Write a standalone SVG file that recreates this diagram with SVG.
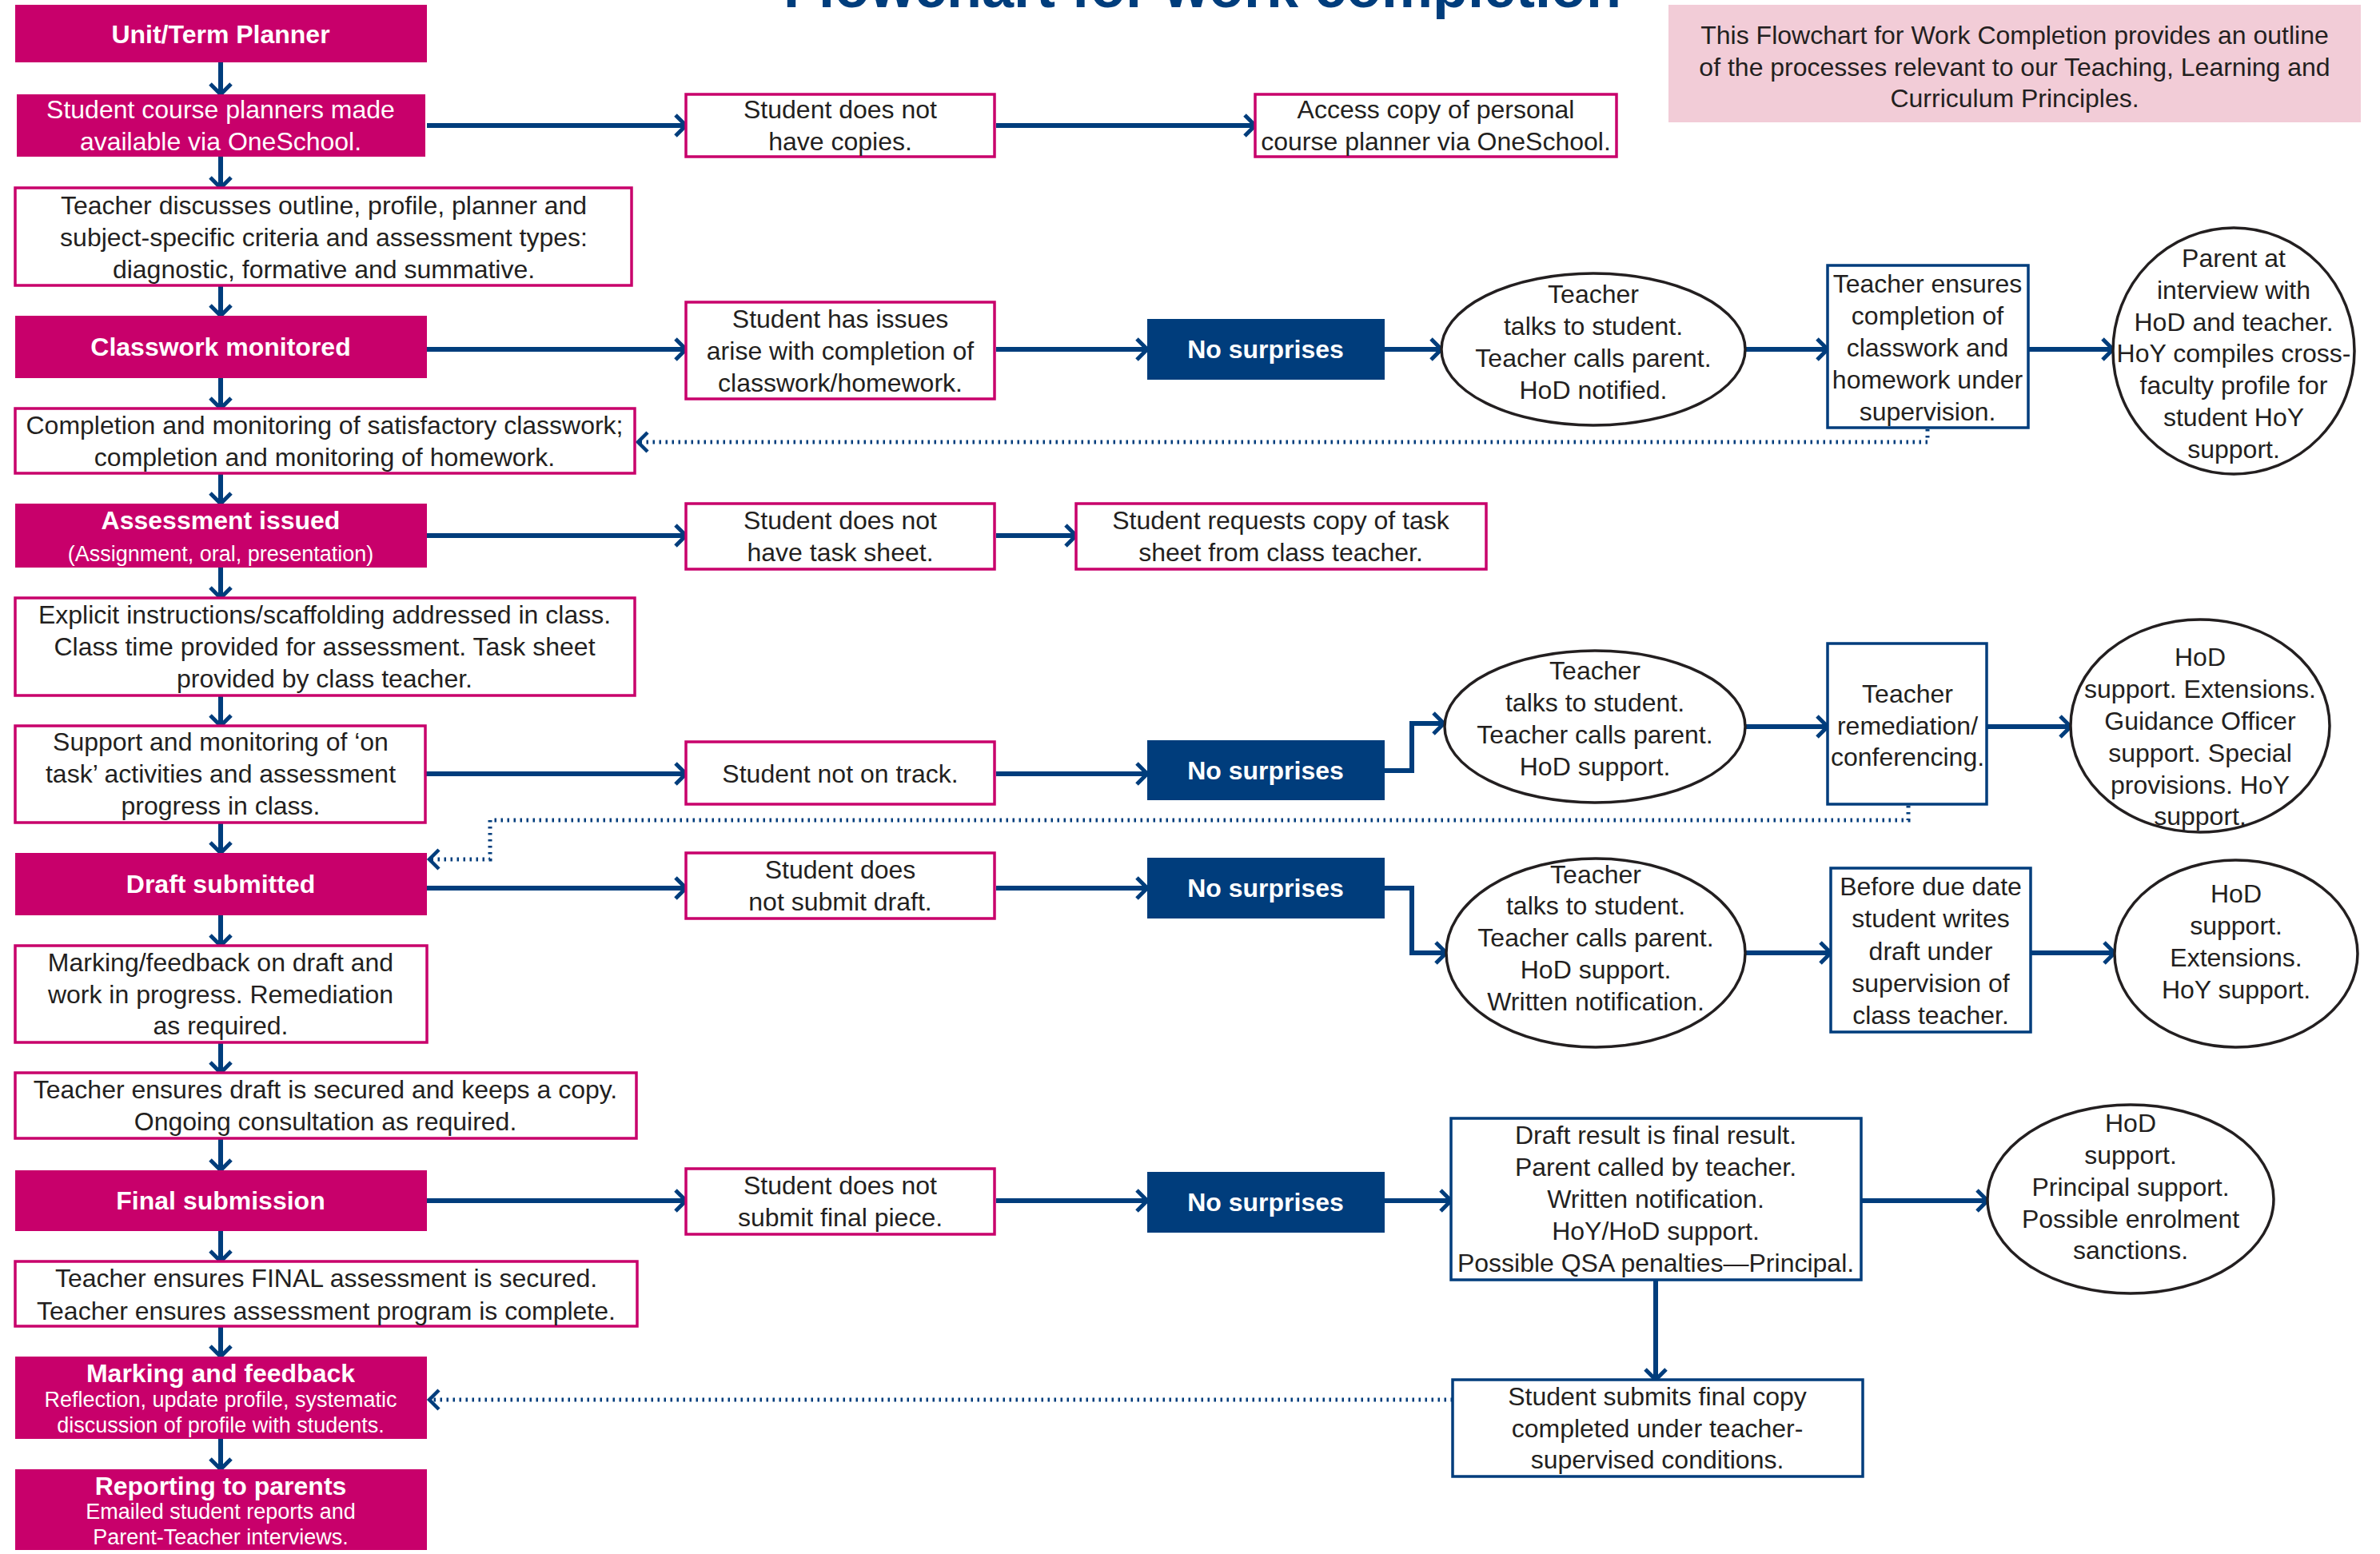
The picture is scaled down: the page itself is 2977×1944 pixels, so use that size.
<svg xmlns="http://www.w3.org/2000/svg" width="2977" height="1944" viewBox="0 0 2977 1944">
<defs>
<style>
.pk{fill:#c8006b}
.wb{fill:#fff;stroke:#c8006b;stroke-width:3.5}
.bb{fill:#fff;stroke:#003d7c;stroke-width:3.5}
.ns{fill:#003d7c}
.el{fill:#fff;stroke:#231f20;stroke-width:3.5}
.info{fill:#f2ccd7}
text{font-family:"Liberation Sans",Arial,Helvetica,sans-serif;font-size:32px;fill:#231f20;text-anchor:middle}
.w{fill:#fff}
.b{font-weight:bold}
.s{font-size:27px}
.ttl{font-size:72px;font-weight:bold;fill:#003d7c}
.c{stroke:#003d7c;stroke-width:6;fill:none;marker-end:url(#ah)}
.d{stroke:#003d7c;stroke-width:5;fill:none;stroke-dasharray:2.5 5.5;marker-end:url(#ahd)}
</style>
<marker id="ah" viewBox="0 0 20 30" refX="16" refY="15" markerWidth="20" markerHeight="30" markerUnits="userSpaceOnUse" orient="auto">
<path d="M3,2 L16,15 L3,28" fill="none" stroke="#003d7c" stroke-width="5"/>
</marker>
<marker id="ahd" viewBox="0 0 20 30" refX="16" refY="15" markerWidth="20" markerHeight="30" markerUnits="userSpaceOnUse" orient="auto">
<path d="M4,3 L16,15 L4,27" fill="none" stroke="#003d7c" stroke-width="4.5"/>
</marker>
</defs>
<rect width="2977" height="1944" fill="#fff"/>

<text class="ttl" x="1504" y="9">Flowchart for work completion</text>

<g id="info">
<rect class="info" x="2087" y="6" width="866" height="147"/>
<text x="2520" y="55">This Flowchart for Work Completion provides an outline</text>
<text x="2520" y="95">of the processes relevant to our Teaching, Learning and</text>
<text x="2520" y="134">Curriculum Principles.</text>
</g>

<g id="connectors">
<path class="c" d="M276,78 V118"/>
<path class="c" d="M276,196 V235"/>
<path class="c" d="M276,357 V395"/>
<path class="c" d="M276,473 V511"/>
<path class="c" d="M276,592 V630"/>
<path class="c" d="M276,710 V748"/>
<path class="c" d="M276,870 V908"/>
<path class="c" d="M276,1029 V1067"/>
<path class="c" d="M276,1145 V1183"/>
<path class="c" d="M276,1304 V1342"/>
<path class="c" d="M276,1424 V1464"/>
<path class="c" d="M276,1540 V1578"/>
<path class="c" d="M276,1659 V1697"/>
<path class="c" d="M276,1800 V1838"/>

<path class="c" d="M534,157 H858"/>
<path class="c" d="M1246,157 H1570"/>

<path class="c" d="M534,437 H858"/>
<path class="c" d="M1246,437 H1435"/>
<path class="c" d="M1732,437 H1803"/>
<path class="c" d="M2183,437 H2286"/>
<path class="c" d="M2537,437 H2643"/>

<path class="c" d="M534,670 H858"/>
<path class="c" d="M1246,670 H1346"/>

<path class="c" d="M532,968 H858"/>
<path class="c" d="M1246,968 H1435"/>
<path class="c" d="M1732,964 H1766 V905 H1806"/>
<path class="c" d="M2183,909 H2286"/>
<path class="c" d="M2485,909 H2590"/>

<path class="c" d="M534,1111 H858"/>
<path class="c" d="M1246,1111 H1435"/>
<path class="c" d="M1732,1111 H1766 V1192 H1809"/>
<path class="c" d="M2183,1192 H2290"/>
<path class="c" d="M2540,1192 H2645"/>

<path class="c" d="M534,1502 H858"/>
<path class="c" d="M1246,1502 H1435"/>
<path class="c" d="M1732,1502 H1815"/>
<path class="c" d="M2328,1502 H2486"/>
<path class="c" d="M2071,1601 V1726"/>

<path class="d" d="M2411,537 V553 H798"/>
<path class="d" d="M2387,1008 V1026 H613 V1075 H537"/>
<path class="d" d="M1817,1751 H537"/>
</g>

<g id="n-unit"><rect class="pk" x="19" y="6" width="515" height="72"/><text class="w b" x="276" y="54">Unit/Term Planner</text></g>
<g id="n-planners"><rect class="pk" x="21" y="118" width="511" height="78"/><text class="w" x="276" y="148">Student course planners made</text><text class="w" x="276" y="188">available via OneSchool.</text></g>
<g id="n-discuss"><rect class="wb" x="19" y="235" width="771" height="122"/><text x="405" y="268">Teacher discusses outline, profile, planner and</text><text x="405" y="308">subject-specific criteria and assessment types:</text><text x="405" y="348">diagnostic, formative and summative.</text></g>
<g id="n-classwork"><rect class="pk" x="19" y="395" width="515" height="78"/><text class="w b" x="276" y="445">Classwork monitored</text></g>
<g id="n-completion"><rect class="wb" x="19" y="511" width="775" height="81"/><text x="406" y="543">Completion and monitoring of satisfactory classwork;</text><text x="406" y="583">completion and monitoring of homework.</text></g>
<g id="n-assess"><rect class="pk" x="19" y="630" width="515" height="80"/><text class="w b" x="276" y="662">Assessment issued</text><text class="w s" x="276" y="702">(Assignment, oral, presentation)</text></g>
<g id="n-explicit"><rect class="wb" x="19" y="748" width="775" height="122"/><text x="406" y="780">Explicit instructions/scaffolding addressed in class.</text><text x="406" y="820">Class time provided for assessment. Task sheet</text><text x="406" y="860">provided by class teacher.</text></g>
<g id="n-support"><rect class="wb" x="19" y="908" width="513" height="121"/><text x="276" y="939">Support and monitoring of ‘on</text><text x="276" y="979">task’ activities and assessment</text><text x="276" y="1019">progress in class.</text></g>
<g id="n-draft"><rect class="pk" x="19" y="1067" width="515" height="78"/><text class="w b" x="276" y="1117">Draft submitted</text></g>
<g id="n-markdraft"><rect class="wb" x="19" y="1183" width="515" height="121"/><text x="276" y="1215">Marking/feedback on draft and</text><text x="276" y="1255">work in progress. Remediation</text><text x="276" y="1294">as required.</text></g>
<g id="n-secured"><rect class="wb" x="19" y="1342" width="777" height="82"/><text x="407" y="1374">Teacher ensures draft is secured and keeps a copy.</text><text x="407" y="1414">Ongoing consultation as required.</text></g>
<g id="n-final"><rect class="pk" x="19" y="1464" width="515" height="76"/><text class="w b" x="276" y="1513">Final submission</text></g>
<g id="n-finalsecured"><rect class="wb" x="19" y="1578" width="778" height="81"/><text x="408" y="1610">Teacher ensures FINAL assessment is secured.</text><text x="408" y="1651">Teacher ensures assessment program is complete.</text></g>
<g id="n-marking"><rect class="pk" x="19" y="1697" width="515" height="103"/><text class="w b" x="276" y="1729">Marking and feedback</text><text class="w s" x="276" y="1760">Reflection, update profile, systematic</text><text class="w s" x="276" y="1792">discussion of profile with students.</text></g>
<g id="n-reporting"><rect class="pk" x="19" y="1838" width="515" height="101"/><text class="w b" x="276" y="1870">Reporting to parents</text><text class="w s" x="276" y="1900">Emailed student reports and</text><text class="w s" x="276" y="1932">Parent-Teacher interviews.</text></g>

<g id="n-nocopies"><rect class="wb" x="858" y="118" width="386" height="78"/><text x="1051" y="148">Student does not</text><text x="1051" y="188">have copies.</text></g>
<g id="n-access"><rect class="wb" x="1570" y="118" width="452" height="78"/><text x="1796" y="148">Access copy of personal</text><text x="1796" y="188">course planner via OneSchool.</text></g>

<g id="n-issues"><rect class="wb" x="858" y="378" width="386" height="121"/><text x="1051" y="410">Student has issues</text><text x="1051" y="450">arise with completion of</text><text x="1051" y="490">classwork/homework.</text></g>
<g id="n-ns1"><rect class="ns" x="1435" y="399" width="297" height="76"/><text class="w b" x="1583" y="448">No surprises</text></g>
<g id="n-e1"><ellipse class="el" cx="1993" cy="437" rx="190" ry="95"/><text x="1993" y="379">Teacher</text><text x="1993" y="419">talks to student.</text><text x="1993" y="459">Teacher calls parent.</text><text x="1993" y="499">HoD notified.</text></g>
<g id="n-ensures"><rect class="bb" x="2286" y="332" width="251" height="203"/><text x="2411" y="366">Teacher ensures</text><text x="2411" y="406">completion of</text><text x="2411" y="446">classwork and</text><text x="2411" y="486">homework under</text><text x="2411" y="526">supervision.</text></g>
<g id="n-e2"><ellipse class="el" cx="2794" cy="439" rx="151" ry="154"/><text x="2794" y="334">Parent at</text><text x="2794" y="374">interview with</text><text x="2794" y="414">HoD and teacher.</text><text x="2794" y="453">HoY compiles cross-</text><text x="2794" y="493">faculty profile for</text><text x="2794" y="533">student HoY</text><text x="2794" y="573">support.</text></g>

<g id="n-notask"><rect class="wb" x="858" y="630" width="386" height="82"/><text x="1051" y="662">Student does not</text><text x="1051" y="702">have task sheet.</text></g>
<g id="n-requests"><rect class="wb" x="1346" y="630" width="513" height="82"/><text x="1602" y="662">Student requests copy of task</text><text x="1602" y="702">sheet from class teacher.</text></g>

<g id="n-ontrack"><rect class="wb" x="858" y="928" width="386" height="78"/><text x="1051" y="979">Student not on track.</text></g>
<g id="n-ns2"><rect class="ns" x="1435" y="926" width="297" height="75"/><text class="w b" x="1583" y="975">No surprises</text></g>
<g id="n-e3"><ellipse class="el" cx="1995" cy="909" rx="188" ry="95"/><text x="1995" y="850">Teacher</text><text x="1995" y="890">talks to student.</text><text x="1995" y="930">Teacher calls parent.</text><text x="1995" y="970">HoD support.</text></g>
<g id="n-remed"><rect class="bb" x="2286" y="805" width="199" height="201"/><text x="2386" y="879">Teacher</text><text x="2386" y="919">remediation/</text><text x="2386" y="958">conferencing.</text></g>
<g id="n-e4"><ellipse class="el" cx="2752" cy="908" rx="162" ry="133"/><text x="2752" y="833">HoD</text><text x="2752" y="873">support. Extensions.</text><text x="2752" y="913">Guidance Officer</text><text x="2752" y="953">support. Special</text><text x="2752" y="993">provisions. HoY</text><text x="2752" y="1032">support.</text></g>

<g id="n-nodraft"><rect class="wb" x="858" y="1067" width="386" height="82"/><text x="1051" y="1099">Student does</text><text x="1051" y="1139">not submit draft.</text></g>
<g id="n-ns3"><rect class="ns" x="1435" y="1073" width="297" height="76"/><text class="w b" x="1583" y="1122">No surprises</text></g>
<g id="n-e5"><ellipse class="el" cx="1996" cy="1192" rx="187" ry="118"/><text x="1996" y="1105">Teacher</text><text x="1996" y="1144">talks to student.</text><text x="1996" y="1184">Teacher calls parent.</text><text x="1996" y="1224">HoD support.</text><text x="1996" y="1264">Written notification.</text></g>
<g id="n-beforedue"><rect class="bb" x="2290" y="1086" width="250" height="205"/><text x="2415" y="1120">Before due date</text><text x="2415" y="1160">student writes</text><text x="2415" y="1201">draft under</text><text x="2415" y="1241">supervision of</text><text x="2415" y="1281">class teacher.</text></g>
<g id="n-e6"><ellipse class="el" cx="2797" cy="1193" rx="152" ry="117"/><text x="2797" y="1129">HoD</text><text x="2797" y="1169">support.</text><text x="2797" y="1209">Extensions.</text><text x="2797" y="1249">HoY support.</text></g>

<g id="n-nofinal"><rect class="wb" x="858" y="1462" width="386" height="82"/><text x="1051" y="1494">Student does not</text><text x="1051" y="1534">submit final piece.</text></g>
<g id="n-ns4"><rect class="ns" x="1435" y="1466" width="297" height="76"/><text class="w b" x="1583" y="1515">No surprises</text></g>
<g id="n-result"><rect class="bb" x="1815" y="1399" width="513" height="202"/><text x="2071" y="1431">Draft result is final result.</text><text x="2071" y="1471">Parent called by teacher.</text><text x="2071" y="1511">Written notification.</text><text x="2071" y="1551">HoY/HoD support.</text><text x="2071" y="1591">Possible QSA penalties—Principal.</text></g>
<g id="n-e7"><ellipse class="el" cx="2665" cy="1500" rx="179" ry="118"/><text x="2665" y="1416">HoD</text><text x="2665" y="1456">support.</text><text x="2665" y="1496">Principal support.</text><text x="2665" y="1536">Possible enrolment</text><text x="2665" y="1575">sanctions.</text></g>
<g id="n-submits"><rect class="bb" x="1817" y="1726" width="513" height="121"/><text x="2073" y="1758">Student submits final copy</text><text x="2073" y="1798">completed under teacher-</text><text x="2073" y="1837">supervised conditions.</text></g>
</svg>
